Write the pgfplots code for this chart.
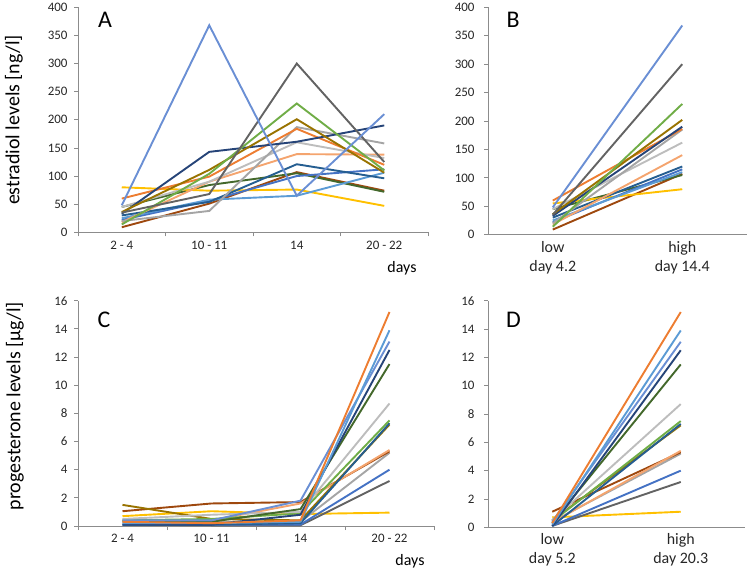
\documentclass[border=0pt]{standalone}
\usepackage{pgfplots}
\pgfplotsset{compat=1.18}
\usepackage{fontspec}
\setmainfont{Carlito}
\definecolor{cSpike}{HTML}{6A8FD4}
\definecolor{cDgray}{HTML}{636363}
\definecolor{cGreen}{HTML}{70AD47}
\definecolor{cDyellow}{HTML}{997300}
\definecolor{cNavy}{HTML}{264478}
\definecolor{cOrange}{HTML}{ED7D31}
\definecolor{cGrayA}{HTML}{A5A5A5}
\definecolor{cGrayB}{HTML}{BDBDBD}
\definecolor{cLorange}{HTML}{F4A46E}
\definecolor{cBlueB}{HTML}{255E91}
\definecolor{cLblue}{HTML}{5B9BD5}
\definecolor{cDgreen}{HTML}{43682B}
\definecolor{cBrown}{HTML}{9E480E}
\definecolor{cYellow}{HTML}{FFC000}
\definecolor{cBlueA}{HTML}{4472C4}
\pgfplotsset{
  panel/.style={
    scale only axis, axis lines=left,
    axis line style={-, draw=black!45, line width=0.8pt},
    tick style={draw=black!45, line width=0.8pt},
    major tick length=4bp, tick align=outside,
    /pgf/number format/assume math mode=true,
    tick label style={font=\fontsize{13}{13}\selectfont, text=black!85},
    x tick label style={align=center},
    ymin=0, clip=false,
    every axis plot/.append style={line width=1.9bp, mark=none},
  },
  catA/.style={xmin=-0.5, xmax=3.5,
    xtick={-0.5,0.5,1.5,2.5,3.5}, xticklabels={},
    extra x ticks={0,1,2,3},
    extra x tick labels={2 - 4,10 - 11,14,20 - 22},
    extra x tick style={major tick length=0pt, tick style={draw=none},
      tick label style={yshift=-5bp}},
    yticklabel style={xshift=-3bp}},
  catB/.style={xmin=-0.5, xmax=1.5, xtick=\empty,
    extra x ticks={0,1},
    extra x tick style={major tick length=0pt, tick style={draw=none},
      tick label style={font=\fontsize{16}{19}\selectfont, yshift=-3bp}},
    yticklabel style={xshift=-6bp}},
}
\begin{document}
\begin{tikzpicture}
\useasboundingbox (0,0) rectangle (749bp,-572bp);
% ---------------- A
\begin{axis}[panel, catA, at={(78bp,-232.3bp)}, anchor=south west,
  width=350bp, height=225bp, ymax=400, ytick={0,50,...,400}]
\addplot[cBrown] coordinates {(0,9) (1,51) (2,107) (3,74)};
\addplot[cDgreen] coordinates {(0,45) (1,84) (2,105) (3,72)};
\addplot[cYellow] coordinates {(0,80) (1,74) (2,76) (3,47)};
\addplot[cBlueA] coordinates {(0,22) (1,56) (2,100) (3,112)};
\addplot[cLblue] coordinates {(0,25) (1,58) (2,65) (3,106)};
\addplot[cBlueB] coordinates {(0,30) (1,54) (2,121) (3,96)};
\addplot[cLorange] coordinates {(0,18) (1,90) (2,139) (3,138)};
\addplot[cGrayB] coordinates {(0,45) (1,90) (2,160) (3,132)};
\addplot[cGrayA] coordinates {(0,20) (1,38) (2,187) (3,158)};
\addplot[cOrange] coordinates {(0,60) (1,99) (2,184) (3,120)};
\addplot[cNavy] coordinates {(0,33) (1,143) (2,161) (3,190)};
\addplot[cDyellow] coordinates {(0,36) (1,111) (2,201) (3,106)};
\addplot[cGreen] coordinates {(0,14) (1,104) (2,229) (3,110)};
\addplot[cDgray] coordinates {(0,35) (1,68) (2,300) (3,125)};
\addplot[cSpike] coordinates {(0,48) (1,368) (2,65) (3,210)};
\end{axis}
% ---------------- B
\begin{axis}[panel, catB, at={(488bp,-234.7bp)}, anchor=south west,
  width=259bp, height=227.4bp, ymax=400, ytick={0,50,...,400},
  extra x tick labels={low\\day 4.2, high\\day 14.4}]
\addplot[cBrown] coordinates {(0,9) (1,107)};
\addplot[cDgreen] coordinates {(0,45) (1,105)};
\addplot[cYellow] coordinates {(0,55) (1,80)};
\addplot[cBlueA] coordinates {(0,22) (1,115)};
\addplot[cLblue] coordinates {(0,25) (1,110)};
\addplot[cBlueB] coordinates {(0,30) (1,120)};
\addplot[cLorange] coordinates {(0,18) (1,140)};
\addplot[cGrayB] coordinates {(0,45) (1,162)};
\addplot[cGrayA] coordinates {(0,20) (1,185)};
\addplot[cOrange] coordinates {(0,60) (1,186)};
\addplot[cNavy] coordinates {(0,33) (1,190)};
\addplot[cDyellow] coordinates {(0,36) (1,202)};
\addplot[cGreen] coordinates {(0,14) (1,230)};
\addplot[cDgray] coordinates {(0,35) (1,300)};
\addplot[cSpike] coordinates {(0,48) (1,368)};
\end{axis}
% ---------------- C
\begin{axis}[panel, catA, at={(78bp,-526bp)}, anchor=south west,
  width=356bp, height=225.3bp, ymax=16, ytick={0,2,...,16}]
\addplot[cYellow] coordinates {(0,0.7) (1,1.05) (2,0.85) (3,0.95)};
\addplot[cDgray] coordinates {(0,0.1) (1,0.05) (2,0.05) (3,3.2)};
\addplot[cBlueA] coordinates {(0,0.1) (1,0.1) (2,0.1) (3,4.0)};
\addplot[cGrayA] coordinates {(0,0.4) (1,0.3) (2,0.3) (3,5.2)};
\addplot[cBrown] coordinates {(0,1.05) (1,1.6) (2,1.7) (3,5.3)};
\addplot[cLorange] coordinates {(0,0.35) (1,0.4) (2,1.6) (3,5.4)};
\addplot[cDyellow] coordinates {(0,1.5) (1,0.5) (2,0.4) (3,7.2)};
\addplot[cBlueB] coordinates {(0,0.1) (1,0.1) (2,0.2) (3,7.3)};
\addplot[cGreen] coordinates {(0,0.4) (1,0.5) (2,0.9) (3,7.5)};
\addplot[cGrayB] coordinates {(0,0.5) (1,0.8) (2,1.0) (3,8.7)};
\addplot[cDgreen] coordinates {(0,0.3) (1,0.3) (2,1.2) (3,11.5)};
\addplot[cNavy] coordinates {(0,0.1) (1,0.1) (2,0.8) (3,12.5)};
\addplot[cSpike] coordinates {(0,0.4) (1,0.4) (2,1.8) (3,13.1)};
\addplot[cLblue] coordinates {(0,0.2) (1,0.2) (2,0.3) (3,13.9)};
\addplot[cOrange] coordinates {(0,0.3) (1,0.2) (2,0.4) (3,15.2)};
\end{axis}
% ---------------- D
\begin{axis}[panel, catB, at={(488bp,-527.3bp)}, anchor=south west,
  width=257bp, height=226.6bp, ymax=16, ytick={0,2,...,16},
  extra x tick labels={low\\day 5.2, high\\day 20.3}]
\addplot[cYellow] coordinates {(0,0.7) (1,1.1)};
\addplot[cDgray] coordinates {(0,0.1) (1,3.2)};
\addplot[cBlueA] coordinates {(0,0.1) (1,4.0)};
\addplot[cGrayA] coordinates {(0,0.4) (1,5.2)};
\addplot[cBrown] coordinates {(0,1.1) (1,5.3)};
\addplot[cLorange] coordinates {(0,0.35) (1,5.4)};
\addplot[cDyellow] coordinates {(0,0.5) (1,7.2)};
\addplot[cBlueB] coordinates {(0,0.1) (1,7.3)};
\addplot[cGreen] coordinates {(0,0.4) (1,7.5)};
\addplot[cGrayB] coordinates {(0,0.5) (1,8.7)};
\addplot[cDgreen] coordinates {(0,0.3) (1,11.5)};
\addplot[cNavy] coordinates {(0,0.1) (1,12.5)};
\addplot[cSpike] coordinates {(0,0.4) (1,13.1)};
\addplot[cLblue] coordinates {(0,0.2) (1,13.9)};
\addplot[cOrange] coordinates {(0,0.3) (1,15.2)};
\end{axis}
% ---------------- texts
\node[font=\fontsize{24}{24}\selectfont] at (105bp,-20bp) {A};
\node[font=\fontsize{24}{24}\selectfont] at (513bp,-20bp) {B};
\node[font=\fontsize{24}{24}\selectfont] at (104bp,-320bp) {C};
\node[font=\fontsize{24}{24}\selectfont] at (513.5bp,-320bp) {D};
\node[font=\fontsize{16}{16}\selectfont] at (402bp,-268bp) {days};
\node[font=\fontsize{16}{16}\selectfont] at (410bp,-561bp) {days};
\node[font=\fontsize{20}{20}\selectfont, rotate=90] at (14bp,-120bp) {estradiol levels [ng/l]};
\node[font=\fontsize{20}{20}\selectfont, rotate=90] at (15bp,-406bp) {progesterone levels [µg/l]};
\end{tikzpicture}
\end{document}
